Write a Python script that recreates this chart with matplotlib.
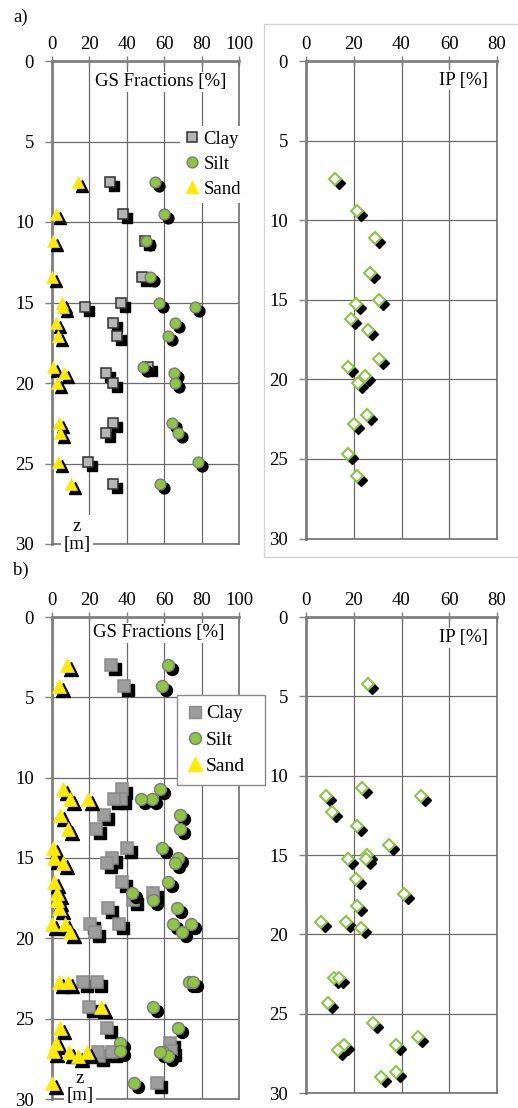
import matplotlib
matplotlib.use("Agg")
import matplotlib.pyplot as plt
from matplotlib import transforms
from matplotlib.lines import Line2D
from matplotlib.patches import Rectangle

plt.rcParams['font.family'] = ['Liberation Serif', 'DejaVu Serif']

# ---- data a) ----
depth_a = [7.5, 9.5, 11.2, 13.4, 15.0, 15.3, 16.3, 17.1, 19.0, 19.4, 20.0, 22.5, 23.1, 24.9, 26.3]
clay_a = [31, 38, 49.5, 48, 37, 17.6, 32.4, 35, 51.5, 29, 32.4, 32.4, 29, 19.5, 32.4]
silt_a = [55, 60, 50, 52.4, 57, 76.5, 66, 62, 48.5, 65, 66, 64, 67.5, 78.3, 58]
sand_a = [14, 2, 0.5, 0, 5.5, 6, 2, 3, 0.7, 6.5, 2.5, 4, 4.3, 3.3, 10]

ip_depth_a = [7.4, 9.4, 11.1, 13.3, 15.0, 15.25, 16.2, 16.9, 18.75, 19.2, 19.8, 20.2, 22.25, 22.8, 24.7, 26.1]
ip_a = [12.1, 21.3, 28.9, 26.8, 30.5, 20.9, 18.8, 25.9, 30.5, 17.6, 24.7, 21.8, 25.5, 20.1, 17.6, 21.3]

# ---- data b) ----
depth_b = [3.0, 4.3, 10.7, 11.3, 11.3, 12.3, 13.2, 14.4, 15.0, 15.3, 16.5, 17.2, 17.6, 18.1,
           19.1, 19.1, 19.6, 22.7, 22.7, 24.3, 25.6, 26.5, 27.0, 27.1, 27.3, 27.1, 29.0]
clay_b = [31.5, 38.5, 37.7, 37, 33, 28, 23.5, 40.3, 32, 29.6, 37.7, 54.2, 43.5, 30,
          35.8, 20.3, 23, 24, 16.8, 20, 29.4, 63, 63.5, 32, 25.3, 24.8, 56.4]
silt_b = [62, 59, 57.5, 53.3, 47.6, 68.4, 68.4, 59, 67.5, 65.8, 62, 43, 54.2, 66.7,
          64.6, 74.3, 69.5, 73, 75.4, 54.2, 67.5, 36.4, 36.4, 59.6, 62, 57.5, 44]
sand_b = [8, 3.7, 5.7, 9.6, 19.5, 4.3, 8.7, 0.7, 1, 5.7, 1, 2.5, 2.5, 3.9,
          0, 7, 9.6, 3.9, 8.7, 26, 4.3, 2.1, 0.7, 9.1, 14, 18.5, 0]

ip_depth_b = [4.2, 10.8, 11.3, 11.3, 12.3, 13.2, 14.4, 15.0, 15.25, 15.25, 16.5, 17.45, 18.2,
              19.2, 19.2, 19.6, 22.75, 22.75, 24.3, 25.6, 26.5, 27.0, 27.0, 27.3, 28.7, 29.0]
ip_b = [26, 23.4, 8.4, 48.1, 10.9, 21.3, 34.7, 25.5, 17.6, 25.1, 20.9, 41, 21.3,
        6.3, 16.7, 23, 11.7, 13.8, 9.2, 28, 46.9, 37.7, 15.9, 13.4, 37.7, 31.4]

W, H = 518, 1108
fig = plt.figure(figsize=(W / 100, H / 100), dpi=100)

GREEN = '#8dc641'
YELLOW = '#ffea00'


def px_axes(l, t, r, b):
    return fig.add_axes([l / W, 1 - b / H, (r - l) / W, (b - t) / H])


def style(ax, xmax):
    ax.set_xlim(0, xmax)
    ax.set_ylim(30, 0)
    ax.xaxis.tick_top()
    ax.set_xticks(range(0, xmax + 1, 20))
    ax.set_yticks(range(0, 31, 5))
    ax.tick_params(axis='x', direction='inout', length=7, width=1, color='#808080',
                   pad=2.5, labelsize=13.5)
    ax.tick_params(axis='y', direction='out', length=5, width=1, color='#808080',
                   pad=8, labelsize=13.5)
    ax.grid(True, color='#6a6a6a', lw=0.9)
    ax.set_axisbelow(True)
    for s in ['top', 'left']:
        ax.spines[s].set_color('#808080')
        ax.spines[s].set_linewidth(2)
    for s in ['right', 'bottom']:
        ax.spines[s].set_color('#707070')
        ax.spines[s].set_linewidth(1.2)


def shadowed(ax, x, y, z, **kw):
    sh = transforms.offset_copy(ax.transData, fig=fig, x=4, y=-4, units='dots')
    ax.plot(x, y, ls='none', marker=kw['marker'], ms=kw['ms'], mfc='black', mec='black',
            transform=sh, clip_on=False, zorder=z)
    ax.plot(x, y, ls='none', clip_on=False, zorder=z + 0.1, **kw)


def gs_panel(ax, clay, silt, sand, depth, sizes, clay_face, clay_edge):
    style(ax, 100)
    shadowed(ax, clay, depth, 3.0, marker='s', ms=sizes[0], mfc=clay_face, mec=clay_edge, mew=1.1)
    shadowed(ax, silt, depth, 3.2, marker='o', ms=sizes[1], mfc=GREEN, mec='#7a7a7a', mew=1)
    shadowed(ax, sand, depth, 3.4, marker='^', ms=sizes[2], mfc=YELLOW, mec=YELLOW, mew=0.5)


def ip_panel(ax, ip, depth):
    style(ax, 80)
    shadowed(ax, ip, depth, 3.0, marker='D', ms=6, mfc='white', mec=GREEN, mew=1.5)


# a) GS fractions
ax1 = px_axes(52, 61, 239, 544)
gs_panel(ax1, clay_a, silt_a, sand_a, depth_a, (6.5, 7.8, 8.6), '#b5b5b5', '#303030')
ax1.text(0.583, 0.957, 'GS Fractions [%]', transform=ax1.transAxes, ha='center', va='center',
         fontsize=13.5, zorder=3, bbox=dict(facecolor='white', edgecolor='none', pad=1))
ax1.text(0.134, 0.018, 'z\n[m]', transform=ax1.transAxes, ha='center', va='center',
         fontsize=13.5, linespacing=1.05, zorder=3,
         bbox=dict(facecolor='white', edgecolor='none', pad=2))
handles_a = [Line2D([], [], ls='none', marker='s', ms=6.5, mfc='#b5b5b5', mec='#303030', mew=1.1),
             Line2D([], [], ls='none', marker='o', ms=7.8, mfc=GREEN, mec='#7a7a7a'),
             Line2D([], [], ls='none', marker='^', ms=8.6, mfc=YELLOW, mec=YELLOW)]
leg = ax1.legend(handles_a, ['Clay', 'Silt', 'Sand'], loc='upper left',
                 bbox_to_anchor=(180 / W, 1 - 126 / H), bbox_transform=fig.transFigure,
                 fontsize=13.5, frameon=True, fancybox=False, framealpha=1,
                 handlelength=0.8, handletextpad=0.2, labelspacing=0.42, borderpad=0.25,
                 borderaxespad=0)
leg.get_frame().set_edgecolor('none')

# a) IP
ax2 = px_axes(306, 61, 497, 538.5)
ip_panel(ax2, ip_a, ip_depth_a)
ax2.text(0.953, 0.96, 'IP [%]', transform=ax2.transAxes, ha='right', va='center',
         fontsize=13.5, zorder=3, bbox=dict(facecolor='white', edgecolor='none', pad=1))
fig.add_artist(Rectangle((264 / W, 1 - 557 / H), 260 / W, 533 / H, transform=fig.transFigure,
                         fill=False, edgecolor='#d4d4d4', lw=1))

# b) GS fractions
ax3 = px_axes(52, 617, 239, 1099)
gs_panel(ax3, clay_b, silt_b, sand_b, depth_b, (8, 8.6, 9.4), '#9d9d9d', '#8a8a8a')
ax3.text(0.572, 0.967, 'GS Fractions [%]', transform=ax3.transAxes, ha='center', va='center',
         fontsize=13.5, zorder=3, bbox=dict(facecolor='white', edgecolor='none', pad=1))
ax3.text(0.15, 0.025, 'z\n[m]', transform=ax3.transAxes, ha='center', va='center',
         fontsize=13.5, linespacing=1.0, zorder=3,
         bbox=dict(facecolor='white', edgecolor='none', pad=2))
handles_b = [Line2D([], [], ls='none', marker='s', ms=8, mfc='#9d9d9d', mec='#8a8a8a'),
             Line2D([], [], ls='none', marker='o', ms=8.6, mfc=GREEN, mec='#7a7a7a'),
             Line2D([], [], ls='none', marker='^', ms=9.4, mfc=YELLOW, mec=YELLOW)]
leg = ax3.legend(handles_b, ['Clay', 'Silt', 'Sand'], loc='upper left', mode='expand',
                 bbox_to_anchor=(177 / W, 1 - 780 / H, 88 / W, 85 / H),
                 bbox_transform=fig.transFigure,
                 fontsize=14, frameon=True, fancybox=False, framealpha=1,
                 handlelength=0.8, handletextpad=0.2, labelspacing=0.45, borderpad=0.5,
                 borderaxespad=0)
leg.get_frame().set_edgecolor('#8a8a8a')
leg.get_frame().set_linewidth(1)

# b) IP
ax4 = px_axes(306, 617, 497, 1093)
ip_panel(ax4, ip_b, ip_depth_b)
ax4.text(0.953, 0.956, 'IP [%]', transform=ax4.transAxes, ha='right', va='center',
         fontsize=13.5, zorder=3, bbox=dict(facecolor='white', edgecolor='none', pad=1))

fig.text(13 / W, 1 - 17 / H, 'a)', ha='left', va='center', fontsize=13.5)
fig.text(13 / W, 1 - 570 / H, 'b)', ha='left', va='center', fontsize=13.5)

fig.savefig('out.png', dpi=100)
